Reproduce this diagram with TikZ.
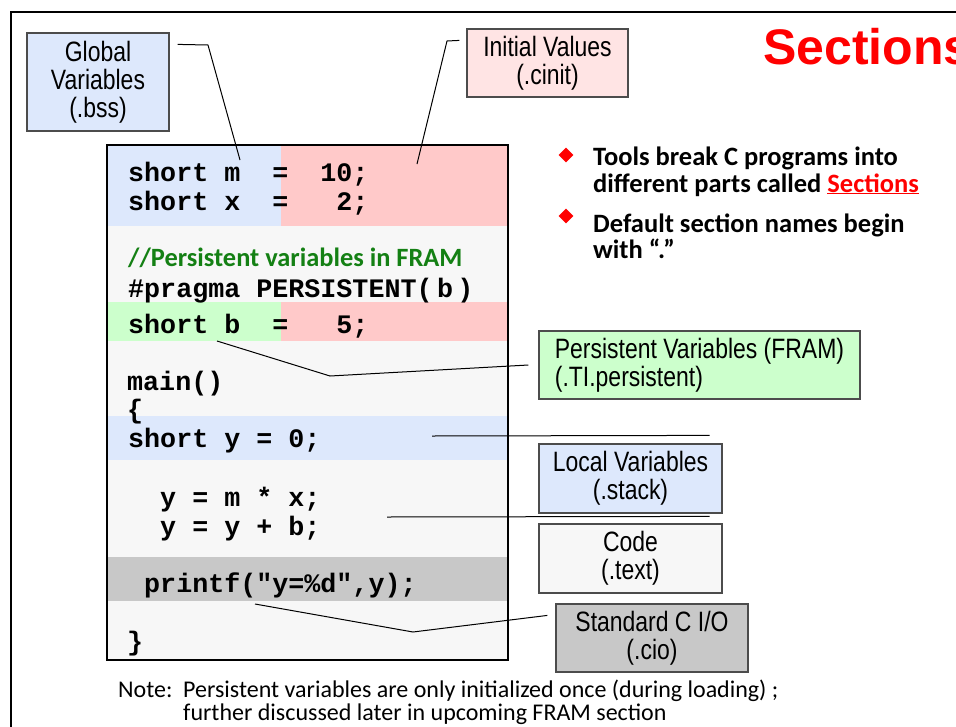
\documentclass[tikz,border=0pt]{standalone}
\usepackage{fontspec}
\setmainfont{Liberation Sans}
\newfontfamily\narrowfont[FakeStretch=0.82]{Liberation Sans}
\newfontfamily\calfont{Carlito}
\newfontfamily\codefont{Liberation Mono}
\usepackage{tikz}
\usetikzlibrary{positioning, shapes.geometric, calc}

\definecolor{bssblue}{RGB}{221,232,252}
\definecolor{initpink}{RGB}{255,228,228}
\definecolor{cinitband}{RGB}{255,201,201}
\definecolor{framgreen}{RGB}{204,255,204}
\definecolor{ciogray}{RGB}{200,200,200}
\definecolor{codebg}{RGB}{247,247,247}
\definecolor{cmtgreen}{RGB}{20,128,20}

\begin{document}
\begin{tikzpicture}[x=1pt,y=-1pt,
    secbox/.style={draw=black!70,line width=1.2pt,inner sep=0pt,align=center,
                   font=\narrowfont\fontsize{28}{28}\selectfont},
    codeline/.style={anchor=base west,inner sep=0pt,
                     font=\codefont\bfseries\fontsize{26.7}{29}\selectfont},
    bullettxt/.style={anchor=base west,inner sep=0pt,
                      font=\calfont\bfseries\fontsize{26.5}{27}\selectfont},
    notetxt/.style={anchor=base west,inner sep=0pt,
                    font=\calfont\fontsize{24}{23}\selectfont},
    leader/.style={black,line width=1pt}]
          \useasboundingbox (0,0) rectangle (956,726);
          \draw[line width=1.6pt] (11,728) -- (11,12) -- (958,12);
          % the listing and its coloured bands
          \fill[codebg]    (107,145)rectangle(508,660);
          \fill[bssblue]   (107,145)rectangle(281,226);
          \fill[cinitband] (281,145)rectangle(508,226);
          \fill[framgreen] (107,302)rectangle(281,341);
          \fill[cinitband] (281,302)rectangle(508,341);
          \fill[bssblue]   (107,416)rectangle(508,460);
          \fill[ciogray]   (107,557)rectangle(508,601);
          \draw[line width=1.6pt](107,145)rectangle(508,660);
          \node[codeline](lm)at(128,181){short~m~~=~~10;};
          \node[codeline](lx)at(128,210){short~x~~=~~~2;};
          \node[codeline,font=\calfont\bfseries\fontsize{26.4}{27}\selectfont,
                text=cmtgreen](cmt)at(128,266){//Persistent variables in FRAM};
          \node[codeline](prg)at(128,297){\#pragma PERSISTENT(\,b\,)};
          \node[codeline](lb)at(128,333){short~b~~=~~~5;};
          \node[codeline](mn)at(127,390){main()};
          \node[codeline](ob)at(127,418){\{};
          \node[codeline](ly)at(128,447){short~y~=~0;};
          \node[codeline](c1)at(128,506){~~y~=~m~*~x;};
          \node[codeline](c2)at(128,535){~~y~=~y~+~b;};
          \node[codeline](pf)at(128,592){~printf("y=\%d",y);};
          \node[codeline](cb)at(127,650){\}};
          % section labels
          \node[secbox,fill=bssblue,minimum width=142,minimum height=98]
                (gv)at(98,82){Global\\Variables\\(.bss)};
          \node[secbox,fill=initpink,minimum width=161,minimum height=68]
                (iv)at(547.5,63){Initial Values\\(.cinit)};
          \node[secbox,fill=framgreen,align=left,minimum width=321,minimum height=68]
                (pv)at(699.5,365){Persistent Variables (FRAM)\\(.TI.persistent)};
          \node[secbox,fill=bssblue,minimum width=183,minimum height=69]
                (lv)at(630.5,478.5){Local Variables\\(.stack)};
          \node[secbox,fill=codebg,minimum width=183,minimum height=69]
                (cd)at(630.5,558.5){Code\\(.text)};
          \node[secbox,fill=ciogray,minimum width=192,minimum height=68]
                (cio)at(652,638){Standard C I/O\\(.cio)};
          % leader lines
          \coordinate (gvout) at ($(gv.north east)+(8,12)$);
          \coordinate (gvbend) at (208,45);
          \coordinate (gvtip) at (240,160);
          \draw[leader](gvout)--(gvbend)--(gvtip);
          \coordinate (ivout) at ($(iv.north west)+(-7,12)$);
          \coordinate (ivbend) at (447,41);
          \coordinate (ivtip) at (417,164);
          \draw[leader](ivout)--(ivbend)--(ivtip);
          \coordinate (pvtip) at (217,341);
          \coordinate (pvbend) at (330,376);
          \draw[leader](pvtip)--(pvbend)--([xshift=-10pt]pv.west);
          \coordinate (lvtip) at (432,436);
          \coordinate (lvout) at ($(lv.north east)+(-13,-8)$);
          \draw[leader](lvtip)--(lvout);
          \coordinate (cdtip) at (387,517);
          \coordinate (cdout) at ($(cd.north east)+(-13,-7)$);
          \draw[leader](cdtip)--(cdout);
          \coordinate (ciotip) at (255,604);
          \coordinate (ciobend) at (413,632);
          \coordinate (cioout) at ($(cio.north west)+(-8,12)$);
          \draw[leader](ciotip)--(ciobend)--(cioout);
          % title and bullets
          \node[anchor=base west,inner sep=0pt,text=red,
                font=\bfseries\fontsize{50}{50}\selectfont](title)at(763,64){Sections};
          \node[diamond,fill=red,inner sep=0pt,minimum width=15,
                minimum height=15](d1)at(566,155){};
          \node[diamond,fill=red,inner sep=0pt,minimum width=15,
                minimum height=15](d2)at(566,216){};
          \node[bullettxt](b1a)at(593,165){Tools break C programs into};
          \node[bullettxt](b1b)at(593,192){different parts called
                \textcolor{red}{\underline{Sections}}};
          \node[bullettxt](b2a)at(593,232){Default section names begin};
          \node[bullettxt](b2b)at(593,258){with “.”};
          % note
          \node[notetxt](note)at(118,697){Note:};
          \node[notetxt](n1)at(183,697){Persistent variables are only initialized once (during loading) ;};
          \node[notetxt](n2)at(183,720){further discussed later in upcoming FRAM section};
        \end{tikzpicture}
\end{document}
